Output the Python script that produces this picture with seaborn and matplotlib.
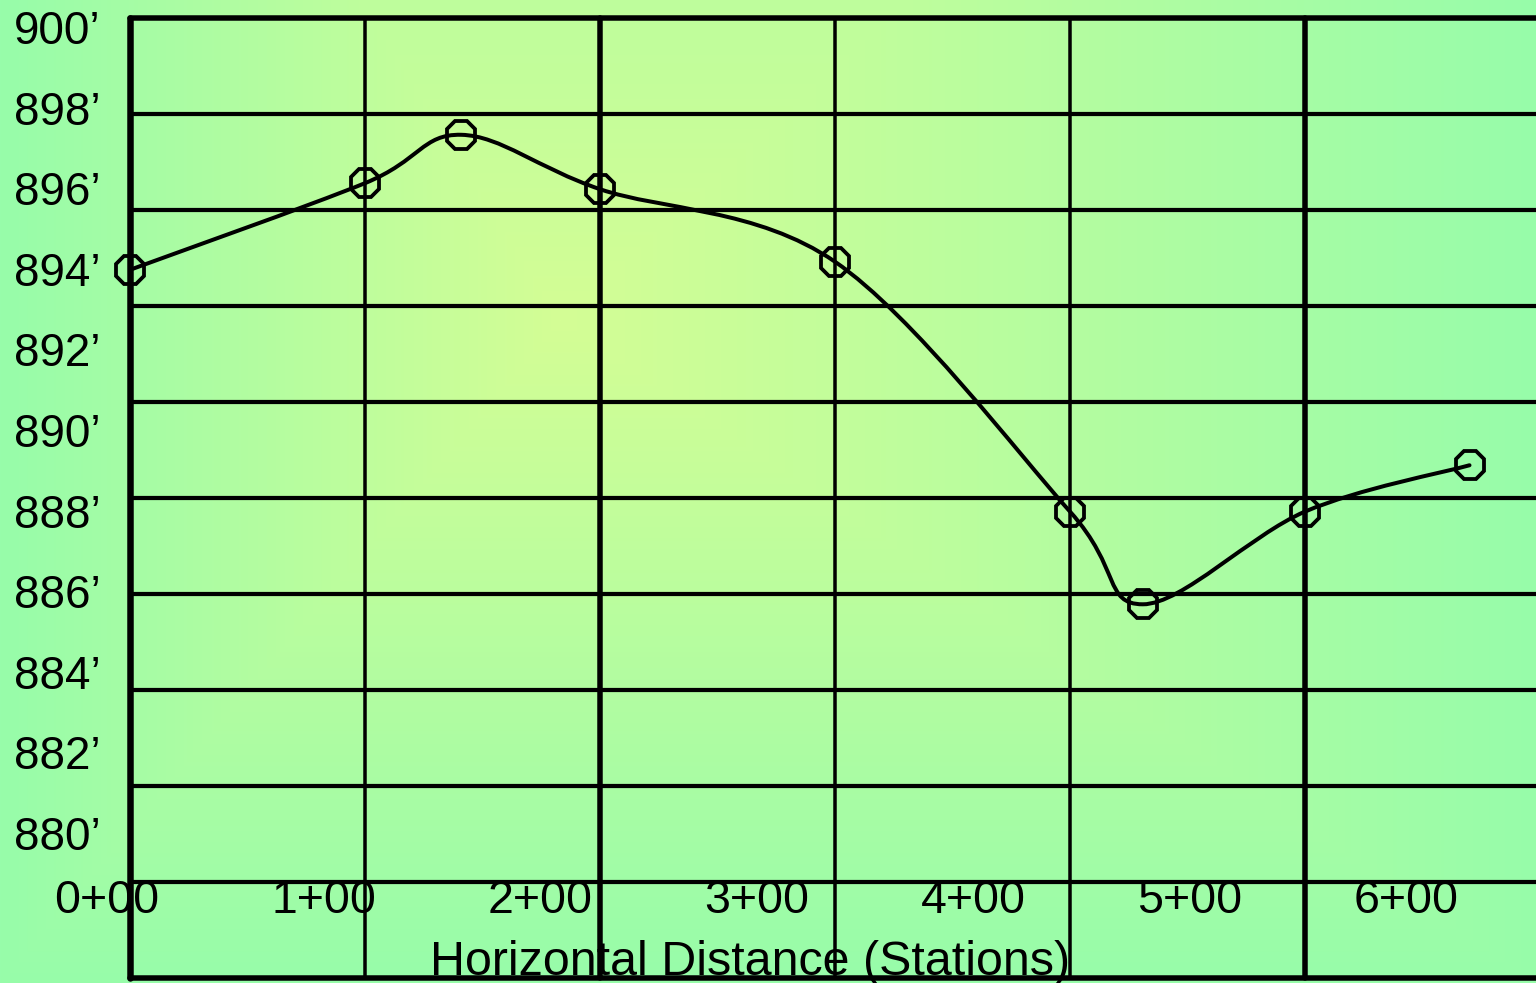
import numpy as np
import matplotlib
matplotlib.use("Agg")
import matplotlib.pyplot as plt
import matplotlib.transforms as mtransforms
from matplotlib.path import Path
from matplotlib.patches import PathPatch
import pandas as pd
import seaborn as sns

# survey points (station in feet, elevation in feet)
stations = [0, 100, 141, 200, 300, 400, 431, 500, 570]
elevations = [894.0, 896.15, 897.35, 896.0, 894.2, 888.0, 885.7, 888.0, 889.15]

elev_ticks = [900, 898, 896, 894, 892, 890, 888, 886, 884, 882, 880]
elev_labels = ["900’", "898’", "896’", "894’", "892’", "890’", "888’", "886’", "884’", "882’", "880’"]
station_ticks = [0, 100, 200, 300, 400, 500, 600]
station_labels = ["0+00", "1+00", "2+00", "3+00", "4+00", "5+00", "6+00"]
x_title = "Horizontal Distance (Stations)"

# grid cells drawn on the sheet and their line weights (px)
grid_cols = [0, 1, 2, 3, 4, 5, 6]
grid_col_lw = [6.5, 3.5, 5.5, 3.5, 3.5, 5.5, 5.5]
grid_rows = [0, 1, 2, 3, 4, 5, 6, 7, 8, 9, 10]
grid_row_lw = [5.5, 4.2, 4.2, 4.2, 4.2, 4.2, 4.2, 4.2, 4.2, 4.2, 5.5]

W, H, DPI = 1536, 983, 100


def pt(v):
    return v * 72 / DPI


def main():
    sns.set_style("white")
    plt.rcParams["font.family"] = ["Liberation Sans", "DejaVu Sans"]

    fig = plt.figure(figsize=(W / DPI, H / DPI), dpi=DPI)

    # background: rectangular path gradient yellow-green -> mint
    ax_bg = fig.add_axes([0, 0, 1, 1])
    xx, yy = np.meshgrid(np.arange(W), np.arange(H))
    cx, cy = 560, 320
    tx = np.where(xx < cx, (cx - xx) / 560.0, (xx - cx) / 976.0)
    ty = np.where(yy < cy, (cy - yy) / 900.0, (yy - cy) / 663.0)
    t = np.clip(np.maximum(tx, ty), 0, 1)[..., None]
    c0 = np.array([0xd4, 0xfe, 0x95]) / 255
    c1 = np.array([0x97, 0xfc, 0xaa]) / 255
    img = c0 * (1 - t) + c1 * t
    ax_bg.imshow(img, extent=(0, W, H, 0), aspect="auto", interpolation="bilinear")
    ax_bg.set_axis_off()

    # grid sheet
    ax_grid = fig.add_axes([130 / W, (H - 978) / H, 1410 / W, 960 / H])
    ax_grid.set_xlim(0, 6)
    ax_grid.set_ylim(0, 10)
    ax_grid.patch.set_alpha(0)
    ax_grid.set_axis_off()
    for c, lw in zip(grid_cols, grid_col_lw):
        ax_grid.axvline(c, color="black", lw=pt(lw), clip_on=False)
    for r, lw in zip(grid_rows, grid_row_lw):
        ax_grid.axhline(r, color="black", lw=pt(lw), clip_on=False)

    # data axes: 235 px per 100 ft from x=130, 40.3 px per foot from 900' at y=28
    ax = fig.add_axes([0, 0, 1, 1])
    ax.patch.set_alpha(0)
    ax.set_xlim(-130 / 2.35, (W - 130) / 2.35)
    ax.set_ylim(900 - (H - 28) / 40.3, 900 + 28 / 40.3)
    ax.set_axis_off()

    df = pd.DataFrame({"station": stations, "elevation": elevations})

    # smooth profile line (Catmull-Rom as cubic Bezier)
    p = df[["station", "elevation"]].to_numpy(dtype=float)
    pp = np.vstack([p[0], p, p[-1]])
    verts = [tuple(p[0])]
    codes = [Path.MOVETO]
    for i in range(1, len(pp) - 2):
        c1 = pp[i] + (pp[i + 1] - pp[i - 1]) / 6
        c2 = pp[i + 1] - (pp[i + 2] - pp[i]) / 6
        verts += [tuple(c1), tuple(c2), tuple(pp[i + 1])]
        codes += [Path.CURVE4] * 3
    ax.add_patch(PathPatch(Path(verts, codes), fc="none", ec="black",
                           lw=pt(4), capstyle="round", joinstyle="round", zorder=3))

    sns.lineplot(data=df, x="station", y="elevation", ax=ax, linestyle="none",
                 marker="8", markersize=pt(31), markerfacecolor="none",
                 markeredgecolor="black", markeredgewidth=pt(3.8), zorder=4)
    ax.set_axis_off()

    # elevation labels, left aligned at x=14 px
    ytrans = mtransforms.blended_transform_factory(fig.transFigure, ax.transData)
    ytrans = ytrans + mtransforms.ScaledTranslation(0, -16 / DPI, fig.dpi_scale_trans)
    for v, lab in zip(elev_ticks, elev_labels):
        ax.text(14 / W, v, lab, transform=ytrans, ha="left", va="baseline",
                fontsize=33, color="black")

    # station labels use their own spacing (216.5 px per station from x=107)
    ax_lab = fig.add_axes([0, 0, 1, 1])
    ax_lab.patch.set_alpha(0)
    ax_lab.set_axis_off()
    ax_lab.set_xlim(-107 / 2.165, (W - 107) / 2.165)
    ax_lab.set_ylim(H, 0)
    for v, lab in zip(station_ticks, station_labels):
        ax_lab.text(v, 913, lab, ha="center", va="baseline", fontsize=33.5, color="black")
    ax_lab.text((750 - 107) / 2.165, 975, x_title, ha="center", va="baseline",
                fontsize=34.8, color="black")

    fig.savefig("out.png", dpi=DPI)


if __name__ == "__main__":
    main()
